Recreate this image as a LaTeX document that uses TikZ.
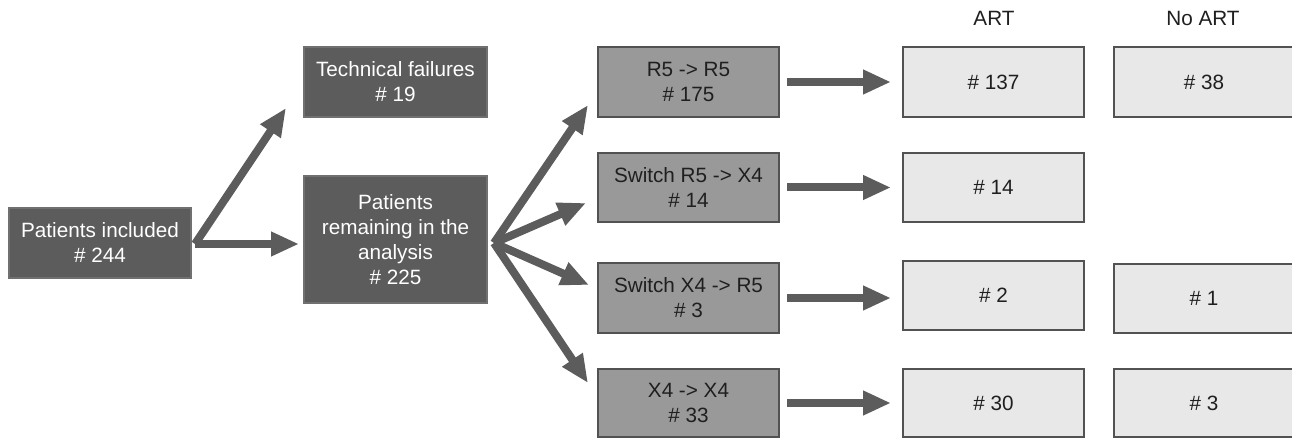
\documentclass[tikz,border=0pt]{standalone}
\usepackage{fontspec}
\setmainfont{Liberation Sans}
\usetikzlibrary{arrows.meta, positioning}

\tikzset{
  box/.style={draw, rectangle, inner sep=0pt, align=center, line width=1pt,
    font=\fontsize{10.35}{12.5}\selectfont},
  darkbox/.style={box, fill=black!64, draw=black!56, text=white},
  midbox/.style={box, fill=black!40, draw=black!68, text=black!88},
  lightbox/.style={box, fill=black!9, draw=black!68, text=black!88},
  fat/.style={-{Triangle[length=14pt, width=11.5pt]}, line width=4pt, draw=black!64},
}

\begin{document}
\begin{tikzpicture}[x=0.5pt, y=-0.5pt]
  \useasboundingbox (0,0) rectangle (1292,438);

  % Inclusion
  \node[darkbox, minimum width=91pt, minimum height=35pt] (incl) at (100,243) {Patients included\\\# 244};
  \node[darkbox, minimum width=91.5pt, minimum height=35pt] (fail) at (395.5,82) {Technical failures\\\# 19};
  \node[darkbox, minimum width=91.5pt, minimum height=63.5pt] (remain) at (395.5,239.5) {Patients\\remaining in the\\analysis\\\# 225};

  % Tropism groups
  \node[midbox, minimum width=90.5pt, minimum height=35pt] (r5r5) at (688.5,82) {R5 -> R5\\\# 175};
  \node[midbox, minimum width=90.5pt, minimum height=34.5pt] (r5x4) at (688.5,187.5) {Switch R5 -> X4\\\# 14};
  \node[midbox, minimum width=90.5pt, minimum height=35pt] (x4r5) at (688.5,298) {Switch X4 -> R5\\\# 3};
  \node[midbox, minimum width=90.5pt, minimum height=34pt] (x4x4) at (688.5,403) {X4 -> X4\\\# 33};

  % Treatment
  \node[font=\fontsize{10.35}{12.5}\selectfont, text=black!88] (art) at (994,18) {ART};
  \node[font=\fontsize{10.35}{12.5}\selectfont, text=black!88] (noart) at (1203,18) {No ART};
  \foreach \n/\x/\y/\h/\t in {art1/993.5/82/35/137, art2/993.5/187.5/34.5/14, art3/993.5/295.5/34.5/2, art4/993.5/403/34/30,
                              no1/1204/82/35/38, no3/1204/298.5/34.5/1, no4/1204/403/34/3} {
    \node[lightbox, minimum width=90.5pt, minimum height=\h pt] (\n) at (\x,\y) {\# \t};
  }

  % Arrows
  \coordinate (split) at ([shift={(3,1)}]incl.east);
  \draw[fat] (split) -- ([shift={(-17,-10)}]fail.south west);
  \draw[fat, shorten >=2pt] (split) -- (split -| remain.west);

  \coordinate (fan) at ([shift={(6,3.5)}]remain.east);
  \draw[fat] (fan) -- ([shift={(-9,-13)}]r5r5.south west);
  \draw[fat] (fan) -- ([shift={(-11,15.5)}]r5x4.west);
  \draw[fat] (fan) -- ([shift={(-8,-13)}]x4r5.west);
  \draw[fat] (fan) -- ([shift={(-9,15)}]x4x4.north west);

  \foreach \a/\b in {r5r5/art1, r5x4/art2, x4r5/art3, x4x4/art4} {
    \draw[fat, shorten <=3.5pt, shorten >=5.5pt] (\a.east) -- (\a.east -| \b.west);
  }
\end{tikzpicture}
\end{document}
